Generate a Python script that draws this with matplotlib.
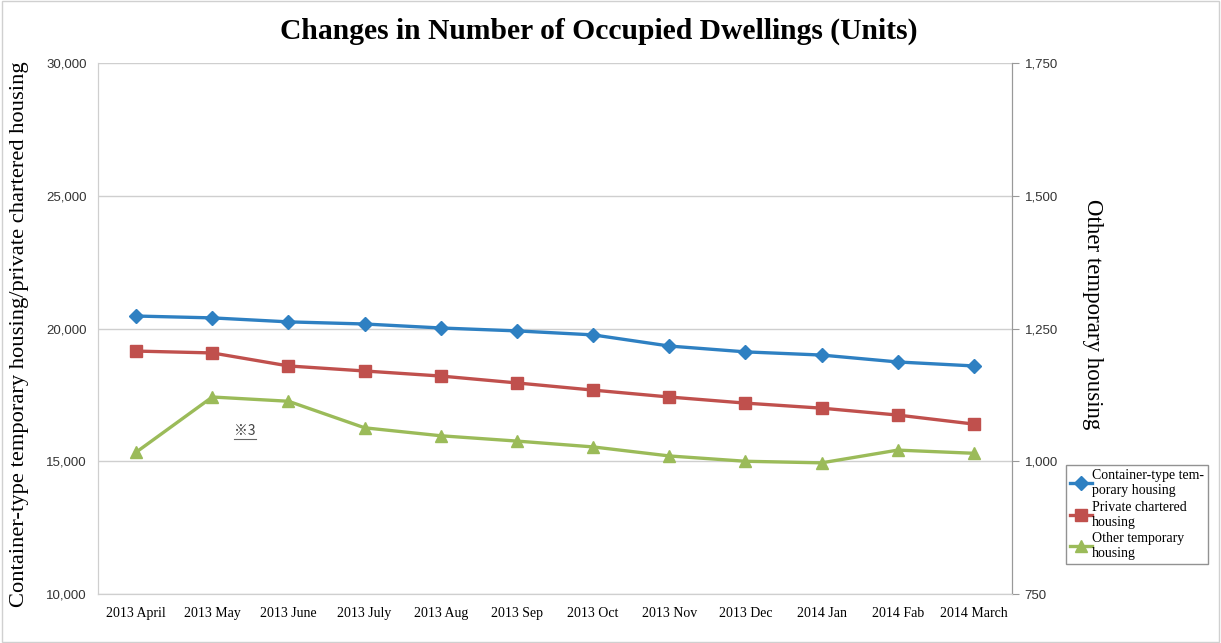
import matplotlib.pyplot as plt
import numpy as np

# monthly data
months = ["2013 April", "2013 May", "2013 June", "2013 July", "2013 Aug", "2013 Sep",
          "2013 Oct", "2013 Nov", "2013 Dec", "2014 Jan", "2014 Fab", "2014 March"]
container = [20470, 20400, 20250, 20170, 20020, 19910, 19760, 19340, 19120, 19000, 18740, 18590]
private = [19150, 19080, 18590, 18400, 18210, 17950, 17680, 17420, 17190, 17000, 16740, 16400]
other = [1017, 1121, 1113, 1063, 1048, 1038, 1027, 1010, 1000, 997, 1021, 1015]

left_ticks = [10000, 15000, 20000, 25000, 30000]
right_ticks = [750, 1000, 1250, 1500, 1750]

serif = "Liberation Serif"
sans = "Liberation Sans"
grid_c = "#cfcfcf"

fig = plt.figure(figsize=(12.21, 6.43), dpi=100)
ax = fig.add_axes([0.0803, 0.0762, 0.7485, 0.8258])
ax2 = ax.twinx()

x = np.arange(len(months))
l1, = ax.plot(x, container, color="#2e80c2", lw=2.4, marker="D", ms=7.5,
              label="Container-type tem-\nporary housing")
l2, = ax.plot(x, private, color="#c0504d", lw=2.4, marker="s", ms=8.5,
              label="Private chartered\nhousing")
l3, = ax2.plot(x, other, color="#9bbb59", lw=2.4, marker="^", ms=9,
               label="Other temporary\nhousing")

ax.set_xlim(-0.5, len(months) - 0.5)
ax.set_ylim(10000, 30000)
ax2.set_ylim(750, 1750)
ax.set_yticks(left_ticks)
ax.set_yticklabels([f"{v:,}" for v in left_ticks], fontsize=9.5, family=sans, color="#333333")
ax2.set_yticks(right_ticks)
ax2.set_yticklabels([f"{v:,}" for v in right_ticks], fontsize=9.5, family=sans, color="#333333")
ax.set_xticks(x)
ax.set_xticklabels(months, fontsize=10, family=serif)
ax.tick_params(axis="x", length=0, pad=9)
ax.tick_params(axis="y", length=0, pad=8)
ax2.tick_params(axis="y", length=5, color="#999999", pad=4)

ax.grid(axis="y", color=grid_c, lw=1)
ax.set_axisbelow(True)
for a in (ax, ax2):
    a.spines["top"].set_visible(False)
    a.spines["left"].set_color(grid_c)
    a.spines["bottom"].set_color(grid_c)
    a.spines["right"].set_color("#999999")

ax.set_ylabel("Container-type temporary housing/private chartered housing",
              fontsize=16.2, family=serif)
ax.yaxis.set_label_coords(-0.076, 0.49)
ax2.set_ylabel("Other temporary housing", fontsize=16.5, family=serif, rotation=-90)
ax2.yaxis.set_label_coords(1.1, 0.527)

fig.suptitle("Changes in Number of Occupied Dwellings (Units)", fontsize=21.3,
             family=serif, fontweight="bold", x=0.49, y=0.972)

# note mark
ax.text(1.43, 16140, "※3", fontsize=10, family=["Noto Sans CJK JP", "DejaVu Sans"],
        ha="center", va="center", color="#444444")
ax.plot([1.29, 1.57], [15850, 15850], color="#666666", lw=0.8)

leg = fig.legend(handles=[l1, l2, l3], loc="upper left", bbox_to_anchor=(0.873, 0.277),
                 prop={"family": serif, "size": 10}, frameon=True, fancybox=False,
                 edgecolor="#777777", handlelength=1.6, handletextpad=0.0,
                 borderpad=0.3, labelspacing=0.25, borderaxespad=0)
leg.get_frame().set_linewidth(1)

# outer border
fig.patches.append(plt.Rectangle((0.002, 0.002), 0.996, 0.996, transform=fig.transFigure,
                                 fill=False, edgecolor="#d0d0d0", lw=1))

fig.savefig("out.png", dpi=100)
